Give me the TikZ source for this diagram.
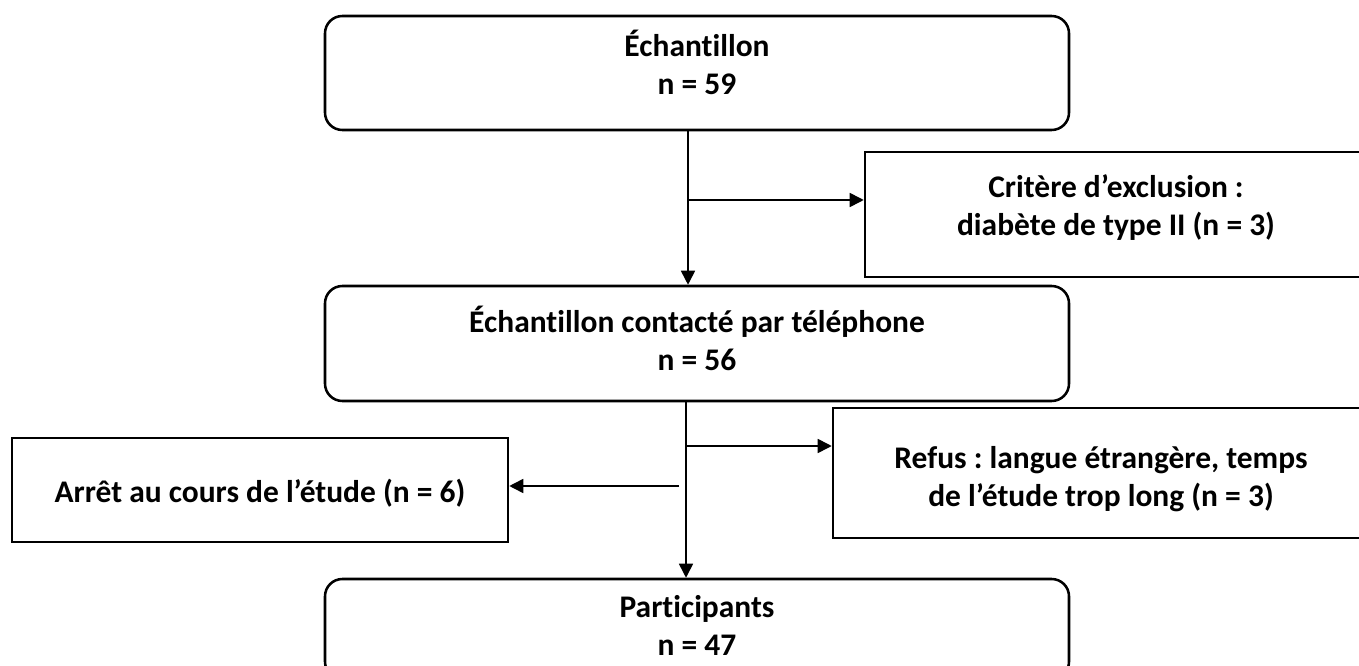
\documentclass[tikz,border=0pt]{standalone}
\usepackage{fontspec}
\setmainfont[Ligatures={NoCommon}]{Carlito}
\usetikzlibrary{arrows.meta}
\newcommand\boxtxt[2]{\raisebox{#1}[0pt][0pt]{\begin{tabular}[t]{@{}c@{}}#2\end{tabular}}}
\begin{document}
\frenchspacing
\begin{tikzpicture}[x=0.75pt,y=-0.75pt,
  box/.style={draw, line width=1.9pt, align=center, inner sep=0pt,
    font=\fontsize{23.6pt}{28.5pt}\selectfont\bfseries\frenchspacing},
  rbox/.style={box, rounded corners=13pt},
  conn/.style={line width=1.2pt, -{Triangle[length=10.5pt,width=10.5pt]}},
]
\useasboundingbox (0,0) rectangle (1359,666);
\clip (0,0) rectangle (1359,666);

\node[rbox, minimum width=558pt, minimum height=85.5pt] (ech) at (697,73) {\boxtxt{12pt}{Échantillon\\n = 59}};
\node[rbox, minimum width=558pt, minimum height=86.25pt] (cont) at (697,343.5) {\boxtxt{7.9pt}{Échantillon contacté par téléphone\\n = 56}};
\node[rbox, minimum width=558pt, minimum height=75pt] (part) at (697,629) {\boxtxt{9pt}{Participants\\n = 47}};
\node[box, minimum width=376.5pt, minimum height=93.75pt] (crit) at (1116,214.5) {\boxtxt{13.1pt}{Critère d’exclusion :\\diabète de type II (n = 3)}};
\node[box, minimum width=402pt, minimum height=97.5pt] (refus) at (1101,473) {\boxtxt{3.75pt}{Refus : langue étrangère, temps\\de l’étude trop long (n = 3)}};
\node[box, minimum width=372pt, minimum height=78pt] (arret) at (260,490) {\boxtxt{-9pt}{Arrêt au cours de l’étude (n = 6)}};

\coordinate (b1) at (687,200);
\coordinate (b2) at (686,446);
\coordinate (b3) at (679,486);

\draw[conn] (ech.south -| 688,0) -- (cont.north -| 688,0);
\draw[conn] (b1) -- (b1 -| crit.west);
\draw[conn] (cont.south -| 686,0) -- (part.north -| 686,0);
\draw[conn] (b2) -- (b2 -| refus.west);
\draw[conn] (b3) -- (b3 -| arret.east);
\end{tikzpicture}
\end{document}
